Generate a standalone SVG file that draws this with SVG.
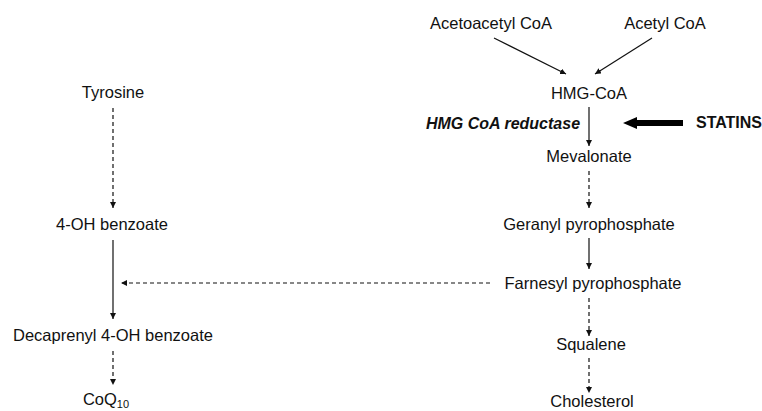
<svg xmlns="http://www.w3.org/2000/svg" width="762" height="411" viewBox="0 0 762 411">
<style>
text{font-family:"Liberation Sans",Arial,sans-serif;font-size:16.5px;fill:#111;text-anchor:middle}
.b{font-weight:bold;font-size:16px}
.bi{font-weight:bold;font-style:italic;font-size:16px}
.s{stroke:#111;stroke-width:1.2;fill:none}
.d{stroke-dasharray:4 3}
</style>
<defs>
<marker id="ah" viewBox="0 0 8 8" refX="8" refY="4" markerWidth="6" markerHeight="6" markerUnits="userSpaceOnUse" orient="auto">
<path d="M0,0 L8,4 L0,8 Z" fill="#111"/>
</marker>
</defs>
<rect width="762" height="411" fill="#fff"/>
<g id="acetoacetyl"><text x="491" y="29">Acetoacetyl CoA</text></g>
<g id="acetyl"><text x="665" y="29">Acetyl CoA</text></g>
<g id="hmgcoa"><text x="589" y="99">HMG-CoA</text></g>
<g id="reductase"><text class="bi" x="503" y="129">HMG CoA reductase</text></g>
<g id="statins"><text class="b" x="729" y="128">STATINS</text></g>
<g id="mevalonate"><text x="589" y="162">Mevalonate</text></g>
<g id="geranyl"><text x="589" y="230">Geranyl pyrophosphate</text></g>
<g id="farnesyl"><text x="593" y="289">Farnesyl pyrophosphate</text></g>
<g id="squalene"><text x="591" y="350">Squalene</text></g>
<g id="cholesterol"><text x="592" y="407">Cholesterol</text></g>
<g id="coq10"><text x="106" y="405">CoQ<tspan font-size="11" dy="3">10</tspan></text></g>
<g id="tyrosine"><text x="113" y="98">Tyrosine</text></g>
<g id="benzoate"><text x="112" y="230">4-OH benzoate</text></g>
<g id="decaprenyl"><text x="113" y="341">Decaprenyl 4-OH benzoate</text></g>
<g id="connectors">
<line class="s" x1="494" y1="38" x2="566" y2="74" marker-end="url(#ah)"/>
<line class="s" x1="652" y1="38" x2="595" y2="74" marker-end="url(#ah)"/>
<line class="s" x1="589" y1="107" x2="589" y2="146" marker-end="url(#ah)"/>
<path d="M683,120 L637,120 L637,117 L623,123 L637,129 L637,126 L683,126 Z" fill="#000"/>
<line class="s d" x1="589" y1="171" x2="589" y2="208" marker-end="url(#ah)"/>
<line class="s" x1="589" y1="238" x2="589" y2="269" marker-end="url(#ah)"/>
<line class="s d" x1="589" y1="298" x2="589" y2="336" marker-end="url(#ah)"/>
<line class="s d" x1="589" y1="358" x2="589" y2="393" marker-end="url(#ah)"/>
<line class="s d" x1="490" y1="283" x2="121" y2="283" marker-end="url(#ah)"/>
<line class="s d" x1="113" y1="108" x2="113" y2="208" marker-end="url(#ah)"/>
<line class="s" x1="113" y1="240" x2="113" y2="319" marker-end="url(#ah)"/>
<line class="s d" x1="113" y1="351" x2="113" y2="385" marker-end="url(#ah)"/>
</g>
</svg>
